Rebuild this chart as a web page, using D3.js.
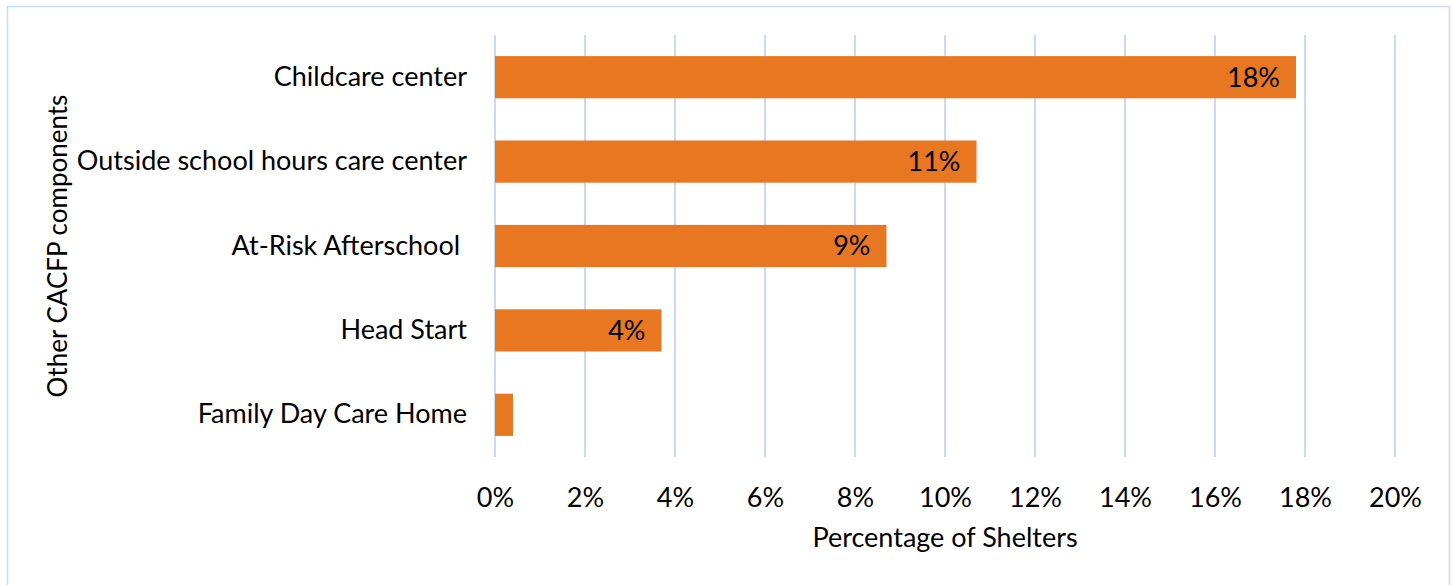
<!DOCTYPE html>
<html>
<head>
<meta charset="utf-8">
<script src="https://cdn.jsdelivr.net/npm/d3@7"></script>
<style>
  body { margin: 0; background: #fff; }
  svg { display: block; font-family: Lato, "Noto Sans", sans-serif; }
</style>
</head>
<body>
<div id="chart"></div>
<script>
var categories = ['Childcare center', 'Outside school hours care center', 'At-Risk Afterschool ', 'Head Start', 'Family Day Care Home'];
var values = [17.8, 10.7, 8.7, 3.7, 0.4];
var value_labels = ['18%', '11%', '9%', '4%', ''];
var x_ticks = [0, 2, 4, 6, 8, 10, 12, 14, 16, 18, 20];

var chart_width = 1453;
var chart_height = 585;
var plot_left = 495, plot_right = 1395, plot_top = 35, plot_bottom = 457;
var font_size = 27;

var svg = d3.select('#chart')
      .append('svg')
      .attr('width', chart_width)
      .attr('height', chart_height);

// outer frame
svg.append('rect')
   .attr('x', 7.5)
   .attr('y', 6.5)
   .attr('width', 1442)
   .attr('height', 590)
   .attr('fill', 'none')
   .attr('stroke', '#c6dbf8')
   .attr('stroke-width', 1.5);

var x_scale = d3.scaleLinear()
        .domain([0, 20])
        .range([plot_left, plot_right]);

var y_scale = d3.scaleBand()
        .domain(categories)
        .range([plot_top, plot_bottom])
        .paddingInner(0.5)
        .paddingOuter(0.25);

// gridlines
svg.append('g')
   .selectAll('line')
   .data(x_ticks)
   .enter()
   .append('line')
   .attr('x1', function(d) { return x_scale(d); })
   .attr('x2', function(d) { return x_scale(d); })
   .attr('y1', plot_top)
   .attr('y2', plot_bottom)
   .attr('stroke', '#c6dbf8')
   .attr('stroke-width', 2);

// x axis
var x_axis = d3.axisBottom(x_scale)
        .tickValues(x_ticks)
        .tickSize(0)
        .tickPadding(0)
        .tickFormat(function(d) { return d + '%'; });

var xg = svg.append('g')
   .attr('transform', 'translate(0, 507)')
   .call(x_axis);
xg.select('.domain').remove();
xg.attr('font-family', null);
xg.selectAll('text')
  .attr('y', 0)
  .attr('dy', '0')
  .attr('font-size', font_size)
  .attr('fill', '#000');

// y axis labels
var y_axis = d3.axisLeft(y_scale)
        .tickSize(0)
        .tickPadding(28);

var yg = svg.append('g')
   .attr('transform', 'translate(' + plot_left + ', 0)')
   .call(y_axis);
yg.select('.domain').remove();
yg.attr('font-family', null);
yg.selectAll('text')
  .style('white-space', 'pre')
  .attr('font-size', font_size)
  .attr('fill', '#000');

// bars
svg.append('g')
   .selectAll('rect')
   .data(values)
   .enter()
   .append('rect')
   .attr('x', x_scale(0))
   .attr('y', function(d, i) { return y_scale(categories[i]); })
   .attr('width', function(d) { return x_scale(d) - x_scale(0); })
   .attr('height', y_scale.bandwidth())
   .attr('fill', '#e87722');

// value labels
svg.append('g')
   .selectAll('text')
   .data(values)
   .enter()
   .append('text')
   .attr('x', function(d) { return x_scale(d) - 16; })
   .attr('y', function(d, i) { return y_scale(categories[i]) + y_scale.bandwidth() / 2; })
   .attr('dy', '0.35em')
   .attr('text-anchor', 'end')
   .attr('font-size', font_size)
   .attr('fill', '#000')
   .text(function(d, i) { return value_labels[i]; });

// axis titles
svg.append('text')
   .attr('x', (plot_left + plot_right) / 2)
   .attr('y', 547)
   .attr('text-anchor', 'middle')
   .attr('font-size', font_size)
   .attr('fill', '#000')
   .text('Percentage of Shelters');

svg.append('text')
   .attr('transform', 'translate(67, ' + ((plot_top + plot_bottom) / 2) + ') rotate(-90)')
   .attr('text-anchor', 'middle')
   .attr('font-size', 26)
   .attr('fill', '#000')
   .text('Other CACFP components');
</script>
</body>
</html>
